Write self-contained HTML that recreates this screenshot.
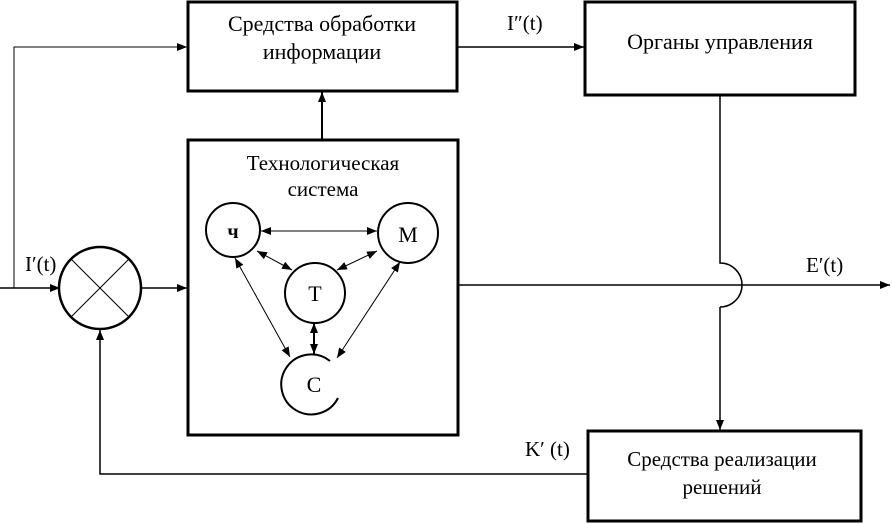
<!DOCTYPE html>
<html><head><meta charset="utf-8"><style>body{margin:0;background:#fff}svg{display:block}text{font-family:"Liberation Serif",serif;fill:#000}</style></head><body>
<svg width="892" height="524" viewBox="0 0 892 524" xmlns="http://www.w3.org/2000/svg">
<defs>
<marker id="a" markerWidth="10" markerHeight="8" refX="10" refY="4" orient="auto" markerUnits="userSpaceOnUse"><path d="M0,0L10,4L0,8z" fill="#000"/></marker>
<marker id="s" markerWidth="10" markerHeight="8" refX="10" refY="4" orient="auto-start-reverse" markerUnits="userSpaceOnUse"><path d="M0,0L10,4L0,8z" fill="#000"/></marker>
</defs>
<g fill="none" stroke="#000">
<rect x="188" y="2" width="269" height="89" stroke-width="3"/>
<rect x="585" y="2" width="270" height="93" stroke-width="3"/>
<rect x="188" y="140" width="270" height="295" stroke-width="3"/>
<rect x="588" y="431" width="273" height="90" stroke-width="3"/>
<circle cx="100" cy="288" r="41" stroke-width="2.5"/>
<path d="M71,259L129,317M129,259L71,317" stroke-width="1"/>
<path d="M0,288H60" stroke-width="1.5" marker-end="url(#a)"/>
<path d="M14,288V47H187" stroke-width="1" marker-end="url(#a)"/>
<path d="M141,288H187" stroke-width="1.5" marker-end="url(#a)"/>
<path d="M322,140V92" stroke-width="2" marker-end="url(#a)"/>
<path d="M457,47H584" stroke-width="1.5" marker-end="url(#a)"/>
<path d="M458,285H890" stroke-width="1.5" marker-end="url(#a)"/>
<path d="M720,95V263A22,22 0 0 1 720,307" stroke-width="1.5"/>
<path d="M720,307V430" stroke-width="1.5" marker-end="url(#a)"/>
<path d="M588,474H100V330" stroke-width="1.5" marker-end="url(#a)"/>
<circle cx="233" cy="230" r="27" stroke-width="2"/>
<circle cx="408" cy="233" r="30" stroke-width="2"/>
<circle cx="315" cy="293" r="30" stroke-width="2"/>
<path d="M330,361A30,30 0 1 0 338,398" stroke-width="2"/>
<g stroke-width="1" marker-start="url(#s)" marker-end="url(#a)">
<path d="M261,231H377"/>
<path d="M257,251L292,270"/>
<path d="M377,251L337,270"/>
<path d="M235,258L290,357"/>
<path d="M400,262L337,358"/>
<path d="M314,323V354" stroke-width="2"/>
</g>
</g>
<g font-size="22" text-anchor="middle">
<text x="322" y="31">Средства обработки</text>
<text x="322" y="59">информации</text>
<text x="720" y="49">Органы управления</text>
<text x="323" y="170" font-size="21">Технологическая</text>
<text x="323" y="196" font-size="21">система</text>
<text x="722" y="466" font-size="21">Средства реализации</text>
<text x="722" y="494" font-size="21">решений</text>
<text x="233" y="238" font-weight="bold" font-size="20">ч</text>
<text x="408" y="242" font-size="22">М</text>
<text x="315" y="301">Т</text>
<text x="314" y="392">С</text>
</g>
<g font-size="21">
<text x="507" y="30">I″(t)</text>
<text x="25" y="271">I′(t)</text>
<text x="806" y="272">E′(t)</text>
<text x="525" y="456">K′ (t)</text>
</g>
</svg>
</body></html>
